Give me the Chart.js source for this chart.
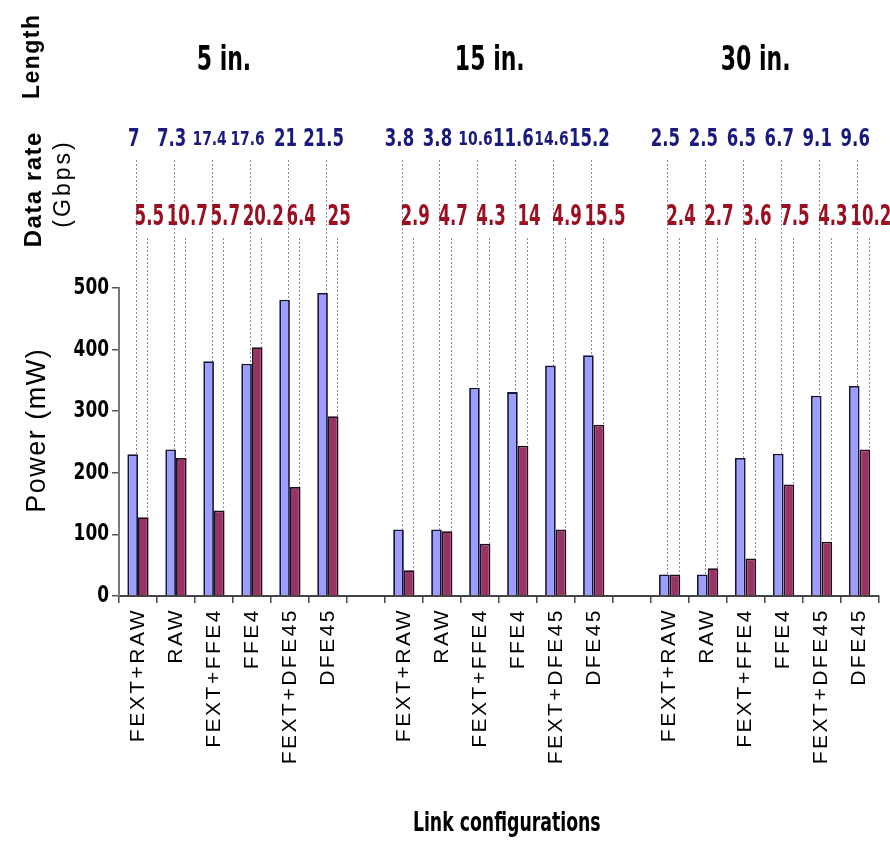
<!DOCTYPE html>
<html><head><meta charset="utf-8">
<script src="https://cdn.jsdelivr.net/npm/chart.js@4.4.1/dist/chart.umd.min.js"></script>
<style>html,body{margin:0;padding:0;background:#fff}#wrap{width:890px;height:844px;position:relative}</style>
</head><body><div id="wrap"><canvas id="c" width="890" height="844"></canvas></div>
<script>
// ---- data ----
const lengths = ['5 in.', '15 in.', '30 in.'];
const configs = ['FEXT+RAW', 'RAW', 'FEXT+FFE4', 'FFE4', 'FEXT+DFE45', 'DFE45'];
// Power (mW), series 1 (light blue) and series 2 (maroon)
const power1_5in  = [230, 238, 381, 377, 481, 492];
const power1_15in = [108, 108, 338, 331, 374, 391];
const power1_30in = [35, 35, 224, 231, 325, 341];
const power2_5in  = [128, 224, 139, 404, 177, 292];
const power2_15in = [42, 105, 85, 244, 108, 278];
const power2_30in = [35, 45, 61, 181, 88, 238];
// Data rates (Gbps)
const rate1_5in  = ['7', '7.3', '17.4', '17.6', '21', '21.5'];
const rate1_15in = ['3.8', '3.8', '10.6', '11.6', '14.6', '15.2'];
const rate1_30in = ['2.5', '2.5', '6.5', '6.7', '9.1', '9.6'];
const rate2_5in  = ['5.5', '10.7', '5.7', '20.2', '6.4', '25'];
const rate2_15in = ['2.9', '4.7', '4.3', '14', '4.9', '15.5'];
const rate2_30in = ['2.4', '2.7', '3.6', '7.5', '4.3', '10.2'];
const yTicks = [0, 100, 200, 300, 400, 500];

// ---- build (gaps between length groups) ----
const labels = [...configs, '', ...configs, '', ...configs];
const data1 = [...power1_5in, null, ...power1_15in, null, ...power1_30in];
const data2 = [...power2_5in, null, ...power2_15in, null, ...power2_30in];
const rates1 = [...rate1_5in, null, ...rate1_15in, null, ...rate1_30in];
const rates2 = [...rate2_5in, null, ...rate2_15in, null, ...rate2_30in];

// ---- style ----
const NARROW = '"Liberation Sans Narrow", "Arial Narrow", "DejaVu Sans Condensed", sans-serif';
const SANS = '"Liberation Sans", Arial, sans-serif';
const SMALL_BLUE = ['17.4', '17.6', '10.6', '14.6'];

function rotText(ctx, text, x, y, font, spacing) {
  ctx.save();
  ctx.translate(x, y);
  ctx.rotate(-Math.PI / 2);
  ctx.font = font;
  ctx.letterSpacing = spacing + 'px';
  ctx.textAlign = 'center';
  ctx.textBaseline = 'middle';
  ctx.fillStyle = '#000';
  ctx.fillText(text, spacing / 2, 0);
  ctx.restore();
}
function narrowText(ctx, text, x, y, size, color, sx, sy) {
  ctx.save();
  ctx.translate(x, y);
  ctx.scale(sx, sy || 1);
  ctx.font = 'bold ' + size + 'px ' + NARROW;
  ctx.textAlign = 'center';
  ctx.textBaseline = 'middle';
  ctx.fillStyle = color;
  ctx.fillText(text, 0, 0);
  ctx.restore();
}

const annot = {
  id: 'annot',
  afterLayout(chart) {
    const xs = chart.scales.x, ys = chart.scales.y;
    if (!xs._patched) {
      const origL = xs.drawLabels.bind(xs);
      xs.drawLabels = function (ca) {
        const ctx = this.ctx; ctx.save(); ctx.letterSpacing = '2.5px'; origL(ca); ctx.restore();
      };
      const origT = xs.drawTitle.bind(xs);
      xs.drawTitle = function () {
        const ctx = this.ctx, cx = (this.left + this.right) / 2;
        ctx.save(); ctx.translate(cx + 8, 0); ctx.scale(0.74, 1); ctx.translate(-cx, 0); origT(); ctx.restore();
      };
      xs._patched = true;
    }
    if (!ys._patched) {
      const origY = ys.drawLabels.bind(ys);
      ys.drawLabels = function (ca) {
        const ctx = this.ctx, rx = this.right - 10;
        ctx.save(); ctx.translate(rx, 0); ctx.scale(0.82, 1); ctx.translate(-rx, 0); origY(ca); ctx.restore();
      };
      ys._patched = true;
    }
  },
  beforeDatasetsDraw(chart) {
    const ctx = chart.ctx;
    const m1 = chart.getDatasetMeta(0), m2 = chart.getDatasetMeta(1);
    ctx.save();
    ctx.strokeStyle = '#8c8c8c';
    ctx.lineWidth = 1;
    ctx.setLineDash([2, 2]);
    labels.forEach((l, i) => {
      if (data1[i] == null) return;
      const b1 = m1.data[i], b2 = m2.data[i];
      ctx.beginPath();
      ctx.moveTo(Math.round(b1.x + 3) + 0.5, 160);
      ctx.lineTo(Math.round(b1.x + 3) + 0.5, b1.y);
      ctx.moveTo(Math.round(b2.x + 4) + 0.5, 238);
      ctx.lineTo(Math.round(b2.x + 4) + 0.5, b2.y);
      ctx.stroke();
    });
    ctx.restore();
  },
  afterDraw(chart) {
    const ctx = chart.ctx;
    const xs = chart.scales.x;
    const m1 = chart.getDatasetMeta(0), m2 = chart.getDatasetMeta(1);
    // length group headers
    lengths.forEach((t, g) => {
      const st = g * 7;
      const x = (xs.getPixelForValue(st + 2) + xs.getPixelForValue(st + 3)) / 2 - 9;
      narrowText(ctx, t, x, 61, 34, '#000', 0.72);
    });
    // data rates
    labels.forEach((l, i) => {
      if (rates1[i] == null) return;
      const small = SMALL_BLUE.includes(rates1[i]);
      narrowText(ctx, rates1[i], m1.data[i].x + 1, 140, small ? 18 : 23, '#1a1a7e', small ? 0.86 : 0.8, small ? 1.05 : 1.05);
      narrowText(ctx, rates2[i], m2.data[i].x + 6, 218, 25, '#9a0f22', 0.74, 1.15);
    });
    // left row titles
    rotText(ctx, 'Length', 33, 57, 'bold 23px ' + SANS, 1.5);
    rotText(ctx, 'Data rate', 34, 190, 'bold 24px ' + SANS, 1.5);
    rotText(ctx, '(Gbps)', 64, 185, '23px ' + SANS, 3);
    rotText(ctx, 'Power (mW)', 38, 431, '27px ' + SANS, 1.5);
  }
};

new Chart(document.getElementById('c'), {
  type: 'bar',
  data: {
    labels: labels,
    datasets: [
      { data: data1, backgroundColor: '#9d9dfb', borderColor: '#14143c', borderWidth: 1.8 },
      { data: data2, backgroundColor: '#993366', borderColor: '#1e0f18', borderWidth: 1.8 }
    ]
  },
  options: {
    responsive: false,
    animation: false,
    events: [],
    datasets: { bar: { barPercentage: 1, categoryPercentage: 0.56 } },
    layout: { padding: { top: 288, right: 10, left: 0, bottom: 0 } },
    plugins: { legend: { display: false }, tooltip: { enabled: false } },
    scales: {
      x: {
        offset: true,
        grid: { offset: true, drawOnChartArea: false, drawTicks: true, tickLength: 7, color: '#444', lineWidth: 1.5 },
        border: { color: '#444', width: 2 },
        ticks: { autoSkip: false, maxRotation: 90, minRotation: 90, padding: 5,
                 font: { family: SANS, size: 21 }, color: '#000' },
        title: { display: true, text: 'Link configurations', color: '#000',
                 font: { family: NARROW, weight: 'bold', size: 26 }, padding: { top: 0, bottom: 4 } },
        afterFit(s) { s.height = 248; }
      },
      y: {
        min: 0, max: 500,
        afterBuildTicks(s) { s.ticks = yTicks.map(v => ({ value: v })); },
        grid: { drawOnChartArea: false, drawTicks: true, tickLength: 7, color: '#555', lineWidth: 1.5 },
        border: { color: '#777', width: 2 },
        ticks: { padding: 3, font: { family: NARROW, weight: 'bold', size: 23 }, color: '#000' },
        afterFit(s) { s.width = 119; }
      }
    }
  },
  plugins: [annot]
});
</script>
</body></html>
